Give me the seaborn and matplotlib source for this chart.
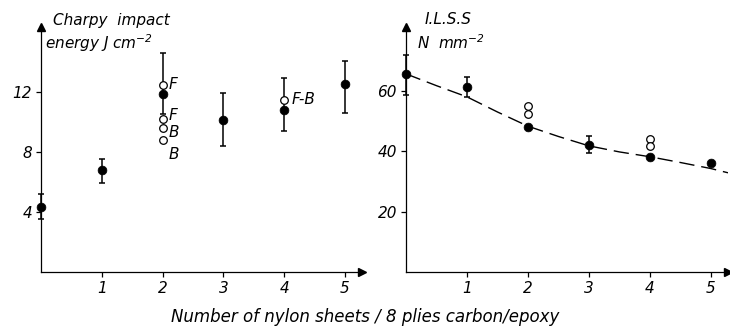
import matplotlib
matplotlib.use("Agg")
import matplotlib.pyplot as plt
import seaborn as sns
import pandas as pd

# Charpy impact energy (J cm^-2), filled points with error bars
charpy_x = [0, 1, 2, 3, 4, 5]
charpy_y = [4.3, 6.8, 11.85, 10.1, 10.8, 12.5]
charpy_lo = [3.5, 5.95, 10.5, 8.35, 9.4, 10.55]
charpy_hi = [5.2, 7.5, 14.6, 11.9, 12.9, 14.05]

# Charpy open points (F = front, B = back impact)
charpy_open_x = [2, 2, 2, 2, 4]
charpy_open_y = [12.45, 10.2, 9.6, 8.75, 11.45]
charpy_open_lab = ["F", "F", "B", "B", "F-B"]

# ILSS (N mm^-2)
ilss_x = [0, 1, 2, 3, 4, 5]
ilss_y = [65.3, 61.2, 48.0, 41.9, 38.1, 35.9]
ilss_err_x = [0, 1, 3]
ilss_lo = [58.6, 57.9, 39.4]
ilss_hi = [71.8, 64.4, 44.9]
ilss_open_x = [2, 2, 4, 4]
ilss_open_y = [54.8, 52.4, 44.1, 41.7]

# dashed trend line
trend_x = [0, 0.5, 1, 1.5, 2, 2.5, 3, 3.5, 4, 4.5, 5, 5.28]
trend_y = [65.5, 61.6, 57.9, 52.9, 48.2, 44.8, 41.7, 39.7, 38.1, 36.2, 34.2, 32.8]

xticks = [1, 2, 3, 4, 5]
charpy_yticks = [4, 8, 12]
ilss_yticks = [20, 40, 60]

sns.set_style("ticks")
plt.rcParams["font.family"] = ["DejaVu Sans"]
plt.rcParams["font.style"] = "italic"
plt.rcParams["mathtext.default"] = "it"
plt.rcParams["axes.linewidth"] = 0.9
plt.rcParams["text.color"] = "black"
plt.rcParams["xtick.color"] = "black"
plt.rcParams["ytick.color"] = "black"
plt.rcParams["axes.edgecolor"] = "black"

fig = plt.figure(figsize=(7.3, 3.29), dpi=100)
ax1 = fig.add_axes([41 / 730, 1 - 272 / 329, 321 / 730, 245 / 329])
ax2 = fig.add_axes([406 / 730, 1 - 272 / 329, 322 / 730, 245 / 329])


def style_axes(ax, ymax, yticks):
    ax.set_xlim(0, 5.28)
    ax.set_ylim(0, ymax)
    for s in ["top", "right"]:
        ax.spines[s].set_visible(False)
    ax.set_xticks(xticks)
    ax.set_yticks(yticks)
    ax.tick_params(direction="out", length=3.5, width=0.9, labelsize=11, pad=3,
                   color="black", labelcolor="black")
    for lab in ax.get_xticklabels() + ax.get_yticklabels():
        lab.set_fontstyle("italic")
    # arrow heads at the axis ends
    ax.plot(1, 0, marker=">", color="black", markersize=6, transform=ax.transAxes, clip_on=False)
    ax.plot(0, 1, marker="^", color="black", markersize=6, transform=ax.transAxes, clip_on=False)
    ax.set_xlabel("")
    ax.set_ylabel("")


# ---- left panel: Charpy ----
ax1.errorbar(charpy_x, charpy_y,
             yerr=[[y - lo for y, lo in zip(charpy_y, charpy_lo)],
                   [hi - y for y, hi in zip(charpy_y, charpy_hi)]],
             fmt="none", ecolor="black", elinewidth=1.1, capsize=2.5, capthick=1.1, clip_on=False)
sns.scatterplot(x=charpy_open_x, y=charpy_open_y, ax=ax1, marker="o", s=30,
                facecolor="white", edgecolor="black", linewidth=0.9, zorder=3)
sns.scatterplot(x=charpy_x, y=charpy_y, ax=ax1, marker="o", s=40,
                color="black", edgecolor="black", zorder=4, clip_on=False)
lab_pos = [(2.1, 12.5), (2.1, 10.4), (2.1, 9.3), (2.1, 7.85), (4.13, 11.5)]
for (lx, ly), t in zip(lab_pos, charpy_open_lab):
    ax1.text(lx, ly, t, fontsize=11, style="italic", va="center", ha="left")
style_axes(ax1, 16.3, charpy_yticks)
ax1.text(53 / 730, 1 - 20 / 329, "Charpy  impact", transform=fig.transFigure,
         fontsize=11, style="italic", va="center", ha="left")
ax1.text(45 / 730, 1 - 43 / 329, "energy J cm$^{-2}$", transform=fig.transFigure,
         fontsize=11, style="italic", va="center", ha="left")

# ---- right panel: ILSS ----
trend = pd.DataFrame({"x": trend_x, "y": trend_y})
sns.lineplot(data=trend, x="x", y="y", ax=ax2, color="black", linewidth=1.0,
             dashes=False, linestyle=(0, (11, 5)))
err_y = [ilss_y[ilss_x.index(v)] for v in ilss_err_x]
ax2.errorbar(ilss_err_x, err_y,
             yerr=[[y - lo for y, lo in zip(err_y, ilss_lo)],
                   [hi - y for y, hi in zip(err_y, ilss_hi)]],
             fmt="none", ecolor="black", elinewidth=1.1, capsize=2.5, capthick=1.1, clip_on=False)
sns.scatterplot(x=ilss_open_x, y=ilss_open_y, ax=ax2, marker="o", s=30,
                facecolor="white", edgecolor="black", linewidth=0.9, zorder=3)
sns.scatterplot(x=ilss_x, y=ilss_y, ax=ax2, marker="o", s=40,
                color="black", edgecolor="black", zorder=4, clip_on=False)
style_axes(ax2, 81, ilss_yticks)
ax2.text(425 / 730, 1 - 20 / 329, "I.L.S.S", transform=fig.transFigure,
         fontsize=11, style="italic", va="center", ha="left")
ax2.text(417 / 730, 1 - 43 / 329, "N  mm$^{-2}$", transform=fig.transFigure,
         fontsize=11, style="italic", va="center", ha="left")

fig.text(365 / 730, 1 - 317 / 329, "Number of nylon sheets / 8 plies carbon/epoxy",
         fontsize=12, style="italic", ha="center", va="center")

fig.savefig("out.png", dpi=100)
